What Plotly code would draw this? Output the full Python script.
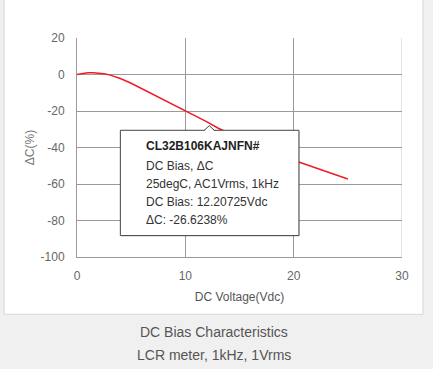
import plotly.graph_objects as go

# ---- data ----
voltage = [0, 0.5, 1, 1.5, 2, 2.5, 3, 4, 5, 6, 7, 8, 9, 10, 11, 12, 13, 14,
           15, 16, 17, 18, 19, 20, 21, 22, 23, 24, 25]
delta_c = [0, 0.6, 0.9, 1.0, 0.8, 0.4, -0.2, -2.2, -4.8, -7.8, -10.9, -14.0,
           -17.1, -20.0, -23.2, -26.0, -29.3, -32.2, -34.9, -37.5, -40.0,
           -42.4, -44.7, -47.0, -49.1, -51.2, -53.3, -55.3, -57.3]
x_ticks = [0, 10, 20, 30]
y_ticks = [20, 0, -20, -40, -60, -80, -100]
y_tick_labels = ["20", "0", "-20", "-40", "-60", "-80", "-100"]
hover_x = 12.20725
hover_y = -26.6238
hover_title = "CL32B106KAJNFN#"
hover_lines = ["DC Bias, ΔC", "25degC, AC1Vrms, 1kHz",
               "DC Bias: 12.20725Vdc", "ΔC: -26.6238%"]
captions = ["DC Bias Characteristics", "LCR meter, 1kHz, 1Vrms"]

W, H = 433, 369
L, R, T, B = 77, 30.7, 37.7, 112.3
pw, ph = W - L - R, H - T - B

def px2paper_x(px):
    return (px - L) / pw

def px2paper_y(py):
    return (H - B - py) / ph

FONT = "Liberation Sans, Arial, sans-serif"

fig = go.Figure()
fig.add_trace(go.Scatter(x=voltage, y=delta_c, mode="lines",
                         line=dict(color="#ee1c25", width=1.5),
                         hoverinfo="skip", showlegend=False))

shapes = [
    # white panel
    dict(type="rect", xref="paper", yref="paper", layer="below",
         x0=px2paper_x(4), x1=px2paper_x(423.3), y0=px2paper_y(314), y1=px2paper_y(-2),
         fillcolor="white", line=dict(color="#d6d6d6", width=1)),
    # right edge grid line (lighter)
    dict(type="line", xref="x", yref="paper", x0=30, x1=30, y0=0, y1=1,
         line=dict(color="#cccccc", width=1), layer="below"),
]

# tooltip box (pixel-sized, anchored at the hovered point)
box = dict(xsizemode="pixel", ysizemode="pixel", xref="x", yref="y",
           xanchor=hover_x, yanchor=hover_y)
shapes.append(dict(type="rect", **box, x0=-87.9, x1=90.7, y0=-8.2, y1=-113.5,
                   fillcolor="rgba(0,0,0,0.12)", line=dict(width=0)))
shapes.append(dict(type="rect", **box, x0=-88.9, x1=89.7, y0=-7.2, y1=-112.5,
                   fillcolor="white", line=dict(color="#444444", width=1)))
shapes.append(dict(type="path", **box, path="M -5,-8 L 0,-3 L 5,-8 Z",
                   fillcolor="white", line=dict(width=0)))
shapes.append(dict(type="path", **box, path="M -5,-7.2 L 0,-2.6 L 5,-7.2",
                   line=dict(color="#444444", width=1)))

annotations = []
annotations.append(dict(x=hover_x, y=hover_y, xref="x", yref="y", showarrow=False,
                        text="<b>" + hover_title + "</b>", xanchor="left", yanchor="middle",
                        xshift=-65.6, yshift=-23.2,
                        font=dict(family=FONT, size=12, color="#222222")))
for txt, ys in zip(hover_lines, [-42.5, -60.9, -78.9, -97.2]):
    annotations.append(dict(x=hover_x, y=hover_y, xref="x", yref="y", showarrow=False,
                            text=txt, xanchor="left", yanchor="middle",
                            xshift=-65.6, yshift=ys,
                            font=dict(family=FONT, size=12, color="#333333")))
for txt, py in zip(captions, [331.5, 354.5]):
    annotations.append(dict(x=px2paper_x(214), y=px2paper_y(py), xref="paper", yref="paper",
                            showarrow=False, text=txt, xanchor="center", yanchor="middle",
                            font=dict(family=FONT, size=14, color="#555555")))

fig.update_layout(
    width=W, height=H,
    margin=dict(l=L, r=R, t=T, b=B, pad=0),
    paper_bgcolor="#f0f0f0", plot_bgcolor="white",
    font=dict(family=FONT, size=12, color="#666666"),
    shapes=shapes, annotations=annotations,
    xaxis=dict(range=[0, 30], tickvals=x_ticks, showgrid=True, gridcolor="#9a9a9a",
               zeroline=False, showline=True, linecolor="#9a9a9a", linewidth=1,
               ticks="", ticklabelstandoff=8,
               title=dict(text="DC Voltage(Vdc)", standoff=10,
                          font=dict(size=12, color="#555555"))),
    yaxis=dict(range=[-100, 20], tickvals=y_ticks, ticktext=y_tick_labels,
               showgrid=True, gridcolor="#9a9a9a",
               zeroline=False, showline=True, linecolor="#9a9a9a", linewidth=1,
               ticks="", ticklabelstandoff=9,
               title=dict(text="ΔC(%)", standoff=3,
                          font=dict(size=12, color="#777777"))),
)

fig.write_html("out.html", config={"displayModeBar": False},
               post_script="document.body.style.margin='0';")
